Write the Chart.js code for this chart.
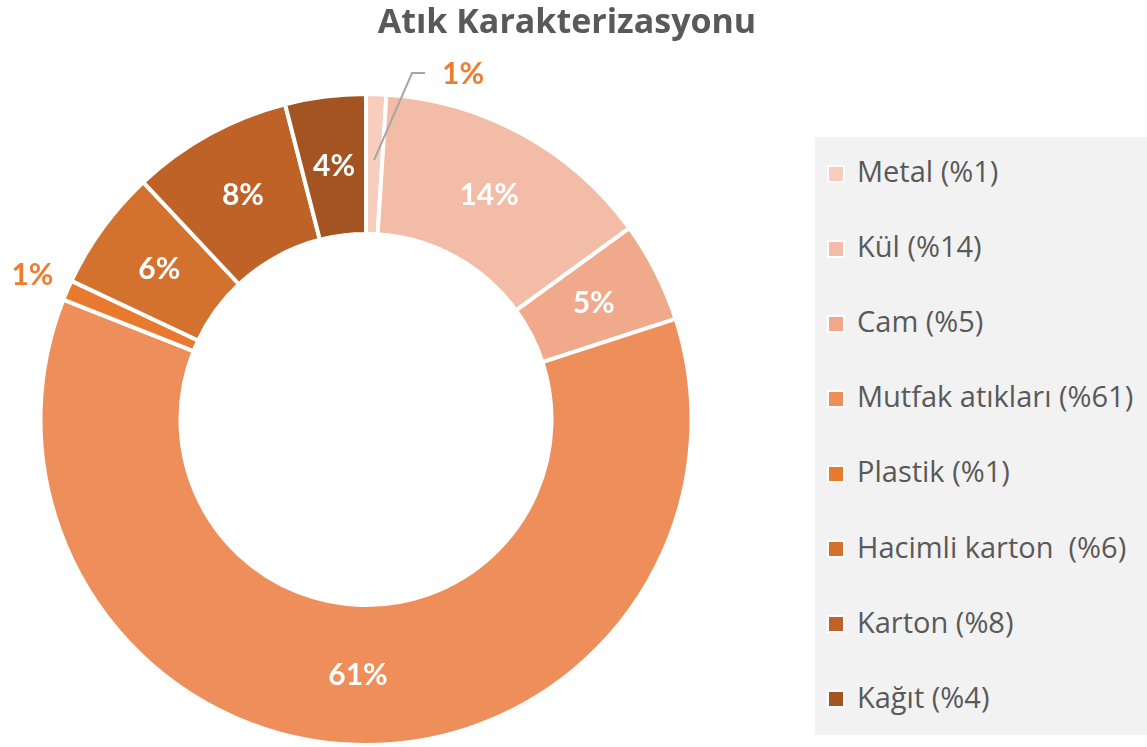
<!DOCTYPE html>
<html>
<head>
<meta charset="utf-8">
<script src="https://cdn.jsdelivr.net/npm/chart.js@4/dist/chart.umd.min.js"></script>
<style>
  body { margin: 0; background: #fff; font-family: "Open Sans", Lato, sans-serif; }
  #wrap { position: relative; width: 1147px; height: 747px; overflow: hidden; }
  #title {
    position: absolute; left: 0; top: -3px; width: 1134px; text-align: center;
    font-weight: bold; font-size: 34px; color: #595959; line-height: normal;
  }
  #legend {
    position: absolute; left: 815px; top: 137px; width: 332px; height: 598px;
    background: #f2f2f2;
  }
  .item {
    position: absolute; left: 12px; height: 40px; display: flex; align-items: center;
    font-size: 29px; color: #595959; white-space: pre;
  }
  .box { width: 14px; height: 14px; border: 2px solid #fff; margin-right: 12px; position: relative; top: 3px; }
</style>
</head>
<body>
<div id="wrap">
  <canvas id="myChart" width="1147" height="747"></canvas>
  <div id="title">Atık Karakterizasyonu</div>
  <div id="legend"></div>
</div>
<script>
const categories = ['Metal', 'Kül', 'Cam', 'Mutfak atıkları', 'Plastik', 'Hacimli karton ', 'Karton', 'Kağıt'];
const values = [1, 14, 5, 61, 1, 6, 8, 4];
const colors = ['#f7cdbe', '#f3bca7', '#f0a98a', '#ee8e5a', '#e8792e', '#d3712e', '#be6228', '#a35421'];

// legend on the grey panel, built from the arrays
const legend = document.getElementById('legend');
categories.forEach((c, i) => {
  const el = document.createElement('div');
  el.className = 'item';
  el.style.top = (13.5 + i * 75.1) + 'px';
  el.innerHTML = '<span class="box" style="background:' + colors[i] + '"></span>' + c + ' (%' + values[i] + ')';
  legend.appendChild(el);
});

// percentage labels on the slices
const sliceLabels = {
  id: 'sliceLabels',
  afterDatasetsDraw(chart) {
    const ctx = chart.ctx;
    const arcs = chart.getDatasetMeta(0).data;
    ctx.save();
    ctx.textAlign = 'center';
    ctx.textBaseline = 'middle';
    ctx.font = 'bold 30px Lato';
    arcs.forEach((arc, i) => {
      const pos = arc.tooltipPosition();
      const txt = values[i] + '%';
      if (values[i] >= 2) {
        ctx.fillStyle = '#fff';
        ctx.fillText(txt, pos.x, pos.y);
        return;
      }
      const mid = (arc.startAngle + arc.endAngle) / 2;
      ctx.fillStyle = '#ed7d31';
      if (i === 0) {
        // leader line out to the label above the ring
        const ex = pos.x + 38;
        const ey = arc.y - arc.outerRadius - 21;
        ctx.strokeStyle = '#a6a6a6';
        ctx.lineWidth = 2;
        ctx.beginPath();
        ctx.moveTo(pos.x, pos.y - 4);
        ctx.lineTo(ex, ey);
        ctx.lineTo(ex + 13, ey);
        ctx.stroke();
        ctx.fillText(txt, ex + 51, ey + 1);
      } else {
        const r = arc.outerRadius + 38;
        ctx.fillText(txt, arc.x + Math.cos(mid) * r, arc.y + Math.sin(mid) * r);
      }
    });
    ctx.restore();
  }
};

const ctx = document.getElementById('myChart').getContext('2d');
const myChart = new Chart(ctx, {
  type: 'doughnut',
  data: {
    labels: categories,
    datasets: [{
      data: values,
      backgroundColor: colors,
      borderColor: '#fff',
      borderWidth: 4
    }]
  },
  options: {
    responsive: false,
    animation: false,
    cutout: '57%',
    layout: { padding: { left: 38, right: 453, top: 92, bottom: 0 } },
    plugins: {
      legend: { display: false },
      tooltip: { enabled: false }
    }
  },
  plugins: [sliceLabels]
});
</script>
</body>
</html>
